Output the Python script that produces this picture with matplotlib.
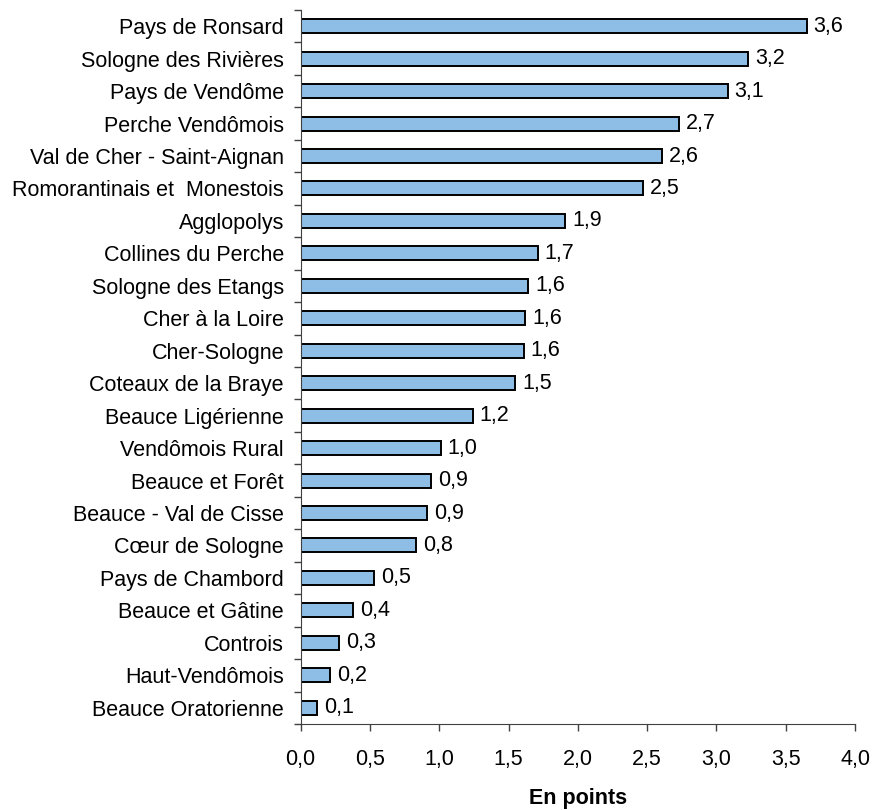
import numpy as np
import matplotlib.pyplot as plt
from matplotlib.ticker import FixedLocator, FuncFormatter

plt.rcParams['font.family'] = ['Liberation Sans', 'DejaVu Sans']

territoires = ['Pays de Ronsard', 'Sologne des Rivières', 'Pays de Vendôme',
               'Perche Vendômois', 'Val de Cher - Saint-Aignan',
               'Romorantinais et  Monestois', 'Agglopolys', 'Collines du Perche',
               'Sologne des Etangs', 'Cher à la Loire', 'Cher-Sologne',
               'Coteaux de la Braye', 'Beauce Ligérienne', 'Vendômois Rural',
               'Beauce et Forêt', 'Beauce - Val de Cisse', 'Cœur de Sologne',
               'Pays de Chambord', 'Beauce et Gâtine', 'Controis',
               'Haut-Vendômois', 'Beauce Oratorienne']
valeurs = [3.65, 3.23, 3.08, 2.73, 2.61, 2.47, 1.91, 1.71, 1.64, 1.62, 1.61,
           1.55, 1.24, 1.01, 0.94, 0.91, 0.83, 0.53, 0.38, 0.28, 0.21, 0.12]
etiquettes = ['3,6', '3,2', '3,1', '2,7', '2,6', '2,5', '1,9', '1,7', '1,6',
              '1,6', '1,6', '1,5', '1,2', '1,0', '0,9', '0,9', '0,8', '0,5',
              '0,4', '0,3', '0,2', '0,1']

fs = 15.5

fig = plt.figure(figsize=(8.83, 8.10), dpi=100)
ax = fig.add_axes([0.3405, 0.1062, 0.6278, 0.8815])

pos = np.arange(len(territoires))
ax.barh(pos, valeurs, height=0.43, color='#8ebde6', edgecolor='black',
        linewidth=1.4)

for i in range(len(valeurs)):
    ax.annotate(etiquettes[i], xy=(valeurs[i], pos[i]), xytext=(5, 0),
                textcoords='offset points', va='center', ha='left',
                fontsize=fs)

ax.set_ylim(len(territoires) - 0.5, -0.5)
ax.set_xlim(0, 4)
ax.set_yticks(pos)
ax.set_yticklabels(territoires, fontsize=fs)
ax.yaxis.set_minor_locator(FixedLocator(np.arange(-0.5, len(territoires), 1)))
ax.tick_params(axis='y', which='major', length=0, pad=12)
ax.tick_params(axis='y', which='minor', length=5, width=1, direction='out',
               color='#404040')

ax.set_xticks(np.arange(0, 4.01, 0.5))
ax.xaxis.set_major_formatter(FuncFormatter(lambda v, p: ('%.1f' % v).replace('.', ',')))
ax.tick_params(axis='x', length=5, width=1, direction='out', labelsize=fs,
               pad=13, color='#404040')

ax.spines['top'].set_visible(False)
ax.spines['right'].set_visible(False)
ax.spines['left'].set_color('#404040')
ax.spines['bottom'].set_color('#404040')

ax.set_xlabel('En points', fontsize=fs, fontweight='bold', labelpad=13)

plt.savefig('out.png', dpi=100)
print('out.png saved')
